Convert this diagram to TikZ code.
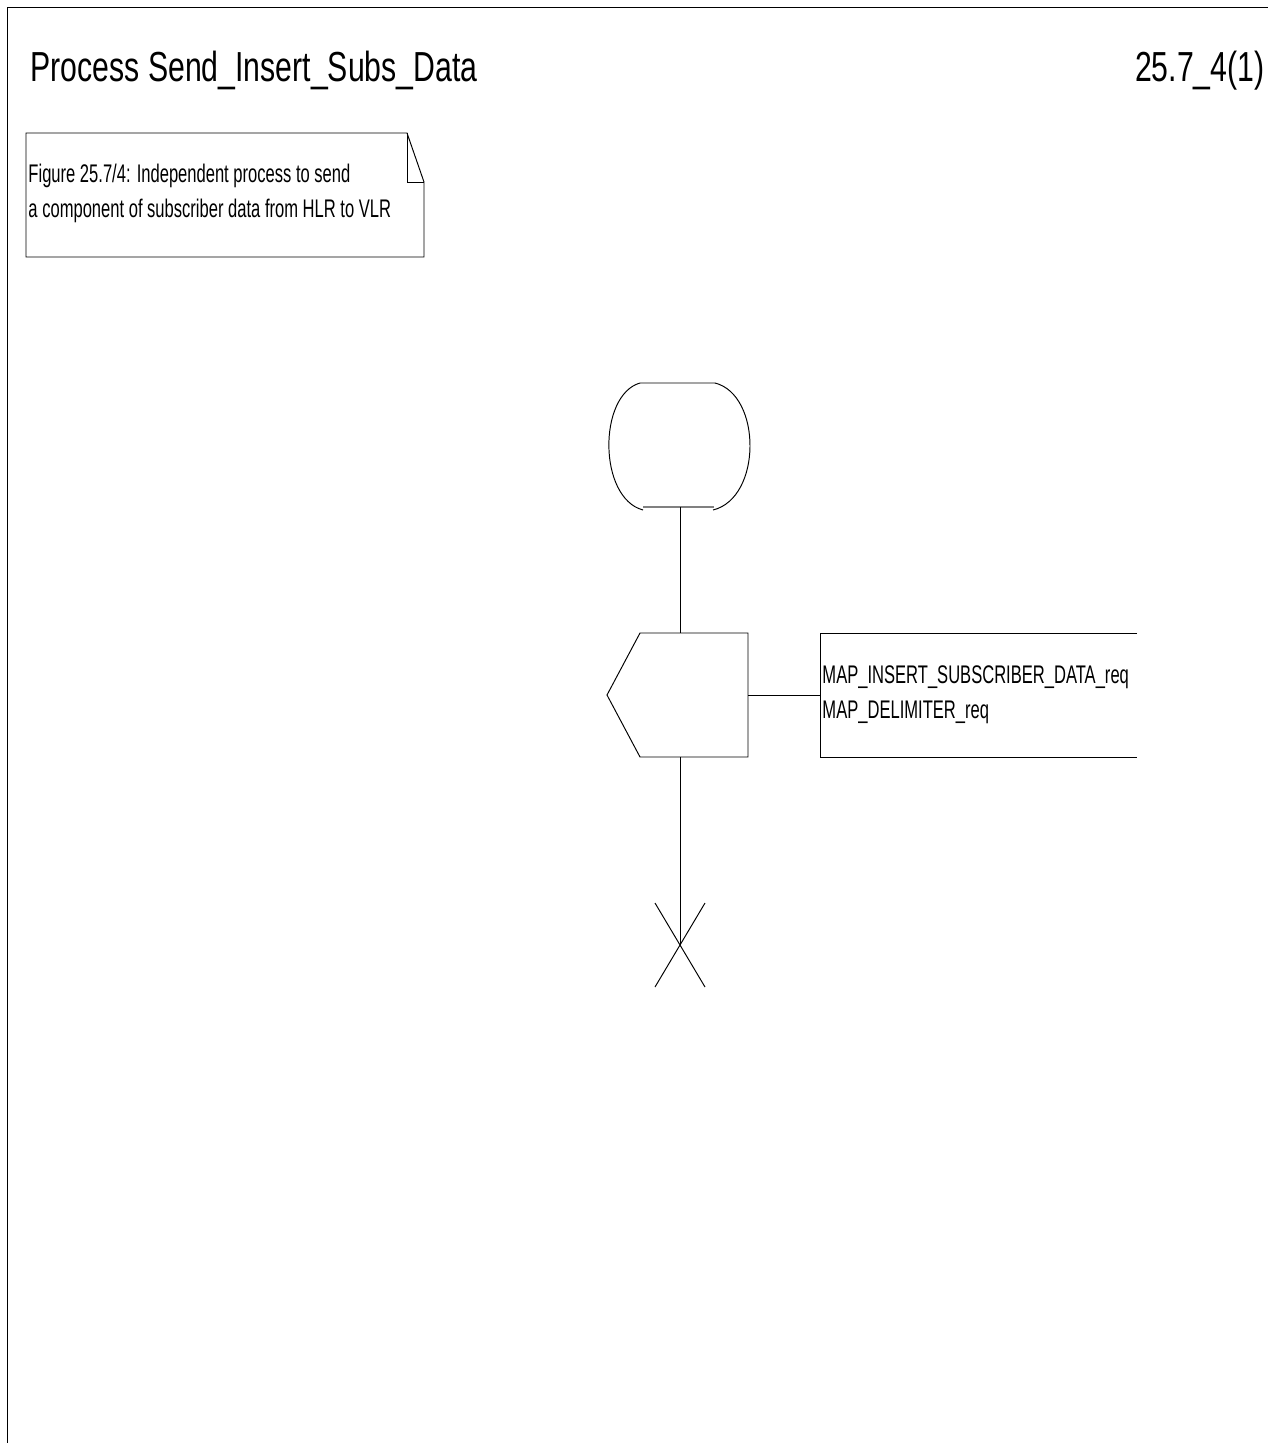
\documentclass[tikz,border=0pt]{standalone}
\usepackage{fontspec}
\setmainfont{Liberation Sans}
\newfontfamily\sdlfont[FakeStretch=0.65]{Liberation Sans}
\newfontfamily\titlefam[FakeStretch=0.72]{Liberation Sans}
\tikzset{
  txt/.style={anchor=base west,inner sep=0pt,font=\sdlfont\fontsize{14.5}{18}\selectfont},
  ttl/.style={inner sep=0pt,font=\titlefam\fontsize{23.9}{28}\selectfont}
}

\begin{document}
\begin{tikzpicture}[x=0.02cm,y=-0.02cm,line width=0.55pt]
  \useasboundingbox (0,0) rectangle (1268,1443);
  % page frame, top and left edges only
  \draw (7.5,1443) -- (7.5,7.5) -- (1268,7.5);
  % title line
  \node[ttl,anchor=base west] (title) at (30,82) {Process Send\_Insert\_Subs\_Data};
  \node[ttl,anchor=base east] (page) at (1265,82) {25.7\_4(1)};
  % comment with folded corner
  \draw (407,133) -- (26,133) -- (26,257) -- (424,257) -- (424,182) -- cycle;
  \draw (407,133) -- (407,182) -- (424,182);
  \node[txt] (noteA) at (28,182) {Figure 25.7/4: Independent process to send};
  \node[txt] (noteB) at (28,217) {a component of subscriber data from HLR to VLR};
  % start symbol
  \draw (643,510) .. controls (598,498) and (598,395) .. (640,383) -- (715,383)
        .. controls (762,395) and (762,498) .. (713,510);
  \draw[gray,line width=1pt] (643,507) -- (714,507);
  \coordinate (start) at (680,507);
  % output symbol
  \draw (748,633) -- (640,633) -- (607,695) -- (640,757) -- (748,757) -- cycle;
  \coordinate (outT) at (680,633);
  \coordinate (outB) at (680,757);
  \coordinate (outR) at (748,695);
  % signal list, open at the right
  \draw (1137,633) -- (820,633) -- (820,757) -- (1137,757);
  \coordinate (sig) at (820,695);
  \node[txt] (sigA) at (822,683) {MAP\_INSERT\_SUBSCRIBER\_DATA\_req};
  \node[txt] (sigB) at (822,718) {MAP\_DELIMITER\_req};
  % stop
  \coordinate (stop) at (680,945);
  \draw (655,903) -- (705,987);
  \draw (705,903) -- (655,987);
  % flow lines
  \draw (start) -- (outT);
  \draw (outR) -- (sig);
  \draw (outB) -- (stop);
\end{tikzpicture}
\end{document}
